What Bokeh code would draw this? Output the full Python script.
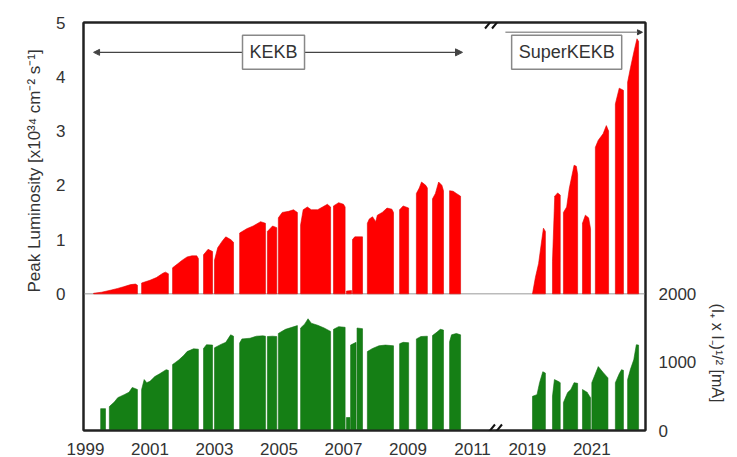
from bokeh.plotting import figure
from bokeh.models import Range1d, LinearAxis, FixedTicker, Span, Label, Arrow, NormalHead, Title
from bokeh.embed import file_html
from bokeh.resources import INLINE

NaN = float("nan")

# Peak luminosity [x10^34 cm^-2 s^-1]; NaN separates operation runs
lum_year = [1999.25, 1999.5, 1999.8, 2000.0, 2000.18, 2000.4, 2000.55, 2000.61, NaN,
            2000.74, 2001.0, 2001.2, 2001.4, 2001.48, 2001.57, NaN,
            2001.70, 2001.85, 2002.0, 2002.15, 2002.3, 2002.45, 2002.50, NaN,
            2002.66, 2002.8, 2002.94, NaN,
            2003.00, 2003.1, 2003.25, 2003.35, 2003.5, 2003.59, NaN,
            2003.78, 2004.0, 2004.2, 2004.43, 2004.58, NaN,
            2004.64, 2004.8, 2004.93, NaN,
            2004.98, 2005.1, 2005.3, 2005.45, 2005.57, NaN,
            2005.67, 2005.75, 2005.88, 2006.0, 2006.2, 2006.35, 2006.5, 2006.60, NaN,
            2006.69, 2006.85, 2007.0, 2007.05, NaN,
            2007.09, 2007.25, NaN,
            2007.28, 2007.35, 2007.59, NaN,
            2007.74, 2007.8, 2007.9, 2008.0, 2008.05, 2008.2, 2008.35, 2008.5, 2008.55, NaN,
            2008.74, 2008.85, 2009.02, NaN,
            2009.26, 2009.35, 2009.42, 2009.55, 2009.60, NaN,
            2009.76, 2009.85, 2009.95, 2010.05, 2010.10, NaN,
            2010.29, 2010.4, 2010.5, 2010.63, NaN,
            2019.16, 2019.25, 2019.35, 2019.45, 2019.5, 2019.56, NaN,
            2019.78, 2019.85, 2019.94, 2020.02, NaN,
            2020.12, 2020.22, 2020.3, 2020.45, 2020.52, 2020.56, NaN,
            2020.71, 2020.8, 2020.9, 2020.96, NaN,
            2021.11, 2021.2, 2021.35, 2021.45, 2021.52, NaN,
            2021.73, 2021.85, 2021.98, NaN,
            2022.11, 2022.2, 2022.32, 2022.4, 2022.45]
lum_value = [0.01, 0.03, 0.07, 0.10, 0.13, 0.17, 0.18, 0.16, NaN,
             0.20, 0.25, 0.30, 0.38, 0.40, 0.37, NaN,
             0.48, 0.55, 0.62, 0.68, 0.70, 0.70, 0.65, NaN,
             0.72, 0.82, 0.78, NaN,
             0.62, 0.85, 0.98, 1.05, 1.00, 0.95, NaN,
             1.12, 1.20, 1.25, 1.33, 1.30, NaN,
             1.15, 1.25, 1.22, NaN,
             1.40, 1.50, 1.52, 1.55, 1.50, NaN,
             1.27, 1.55, 1.60, 1.55, 1.55, 1.60, 1.65, 1.60, NaN,
             1.62, 1.68, 1.65, 1.60, NaN,
             0.05, 0.06, NaN,
             1.00, 1.05, 1.05, NaN,
             1.30, 1.38, 1.42, 1.33, 1.45, 1.50, 1.58, 1.56, 1.50, NaN,
             1.55, 1.62, 1.58, NaN,
             1.85, 1.95, 2.06, 2.00, 1.95, NaN,
             1.75, 1.85, 2.06, 2.00, 1.90, NaN,
             1.90, 1.89, 1.85, 1.80, NaN,
             0.00, 0.30, 0.56, 1.00, 1.21, 1.15, NaN,
             0.60, 1.80, 1.86, 1.82, NaN,
             1.50, 1.60, 1.94, 2.37, 2.35, 2.20, NaN,
             1.30, 1.45, 1.40, 1.20, NaN,
             2.70, 2.83, 2.95, 3.10, 3.00, NaN,
             3.50, 3.79, 3.75, NaN,
             3.90, 4.17, 4.50, 4.70, 4.65]

# Beam current (I+ x I-)^1/2 [mA]; NaN separates operation runs
cur_year = [1999.47, 1999.62, NaN,
            1999.74, 1999.9, 2000.0, 2000.2, 2000.35, 2000.45, 2000.61, NaN,
            2000.74, 2000.82, 2000.9, 2001.0, 2001.15, 2001.3, 2001.5, 2001.57, NaN,
            2001.70, 2001.8, 2001.9, 2002.05, 2002.15, 2002.35, 2002.50, NaN,
            2002.66, 2002.75, 2002.94, NaN,
            2003.00, 2003.2, 2003.35, 2003.5, 2003.59, NaN,
            2003.78, 2003.85, 2004.1, 2004.3, 2004.5, 2004.58, NaN,
            2004.64, 2004.8, 2004.93, NaN,
            2004.98, 2005.2, 2005.4, 2005.57, NaN,
            2005.67, 2005.8, 2005.9, 2006.0, 2006.2, 2006.4, 2006.60, NaN,
            2006.69, 2006.85, 2007.05, NaN,
            2007.09, 2007.2, NaN,
            2007.22, 2007.39, NaN,
            2007.42, 2007.59, NaN,
            2007.74, 2007.9, 2008.1, 2008.3, 2008.55, NaN,
            2008.74, 2008.85, 2009.02, NaN,
            2009.26, 2009.4, 2009.60, NaN,
            2009.76, 2009.9, 2010.0, 2010.10, NaN,
            2010.29, 2010.35, 2010.5, 2010.63, NaN,
            2019.16, 2019.3, 2019.38, 2019.48, 2019.56, NaN,
            2019.78, 2019.84, 2019.95, 2020.02, NaN,
            2020.12, 2020.25, 2020.35, 2020.45, 2020.56, NaN,
            2020.71, 2020.85, 2020.96, NaN,
            2021.00, 2021.2, 2021.35, 2021.5, NaN,
            2021.73, 2021.85, 2021.92, 2021.98, NaN,
            2022.11, 2022.2, 2022.3, 2022.38, 2022.45]
cur_value = [320, 320, NaN,
             350, 420, 480, 525, 560, 630, 600, NaN,
             600, 745, 700, 720, 790, 830, 890, 880, NaN,
             965, 1000, 1035, 1100, 1155, 1195, 1190, NaN,
             1200, 1255, 1250, NaN,
             1210, 1260, 1290, 1400, 1380, NaN,
             1280, 1340, 1350, 1380, 1385, 1380, NaN,
             1375, 1380, 1375, NaN,
             1420, 1480, 1510, 1535, NaN,
             1500, 1560, 1635, 1570, 1540, 1500, 1450, NaN,
             1480, 1520, 1510, NaN,
             190, 190, NaN,
             1250, 1290, NaN,
             1500, 1490, NaN,
             1155, 1200, 1240, 1250, 1240, NaN,
             1270, 1290, 1285, NaN,
             1340, 1375, 1380, NaN,
             1390, 1440, 1480, 1470, NaN,
             1300, 1400, 1420, 1400, NaN,
             500, 525, 700, 860, 840, NaN,
             500, 745, 720, 700, NaN,
             410, 555, 600, 700, 690, NaN,
             600, 560, 480, NaN,
             700, 935, 850, 770, NaN,
             700, 830, 890, 880, NaN,
             745, 900, 1035, 1255, 1250]

tick_years = [1999, 2001, 2003, 2005, 2007, 2009, 2011, 2019, 2021]
lum_ticks = [0, 1, 2, 3, 4, 5]
cur_ticks = [0, 1000, 2000]

BREAK_SHIFT = 6.3  # years cut out of the axis between KEKB and SuperKEKB


def to_axis(t):
    return t - BREAK_SHIFT if t > 2015 else t


def split_runs(years, values):
    xs, ys, cx, cy = [], [], [], []
    for t, v in zip(list(years) + [NaN], list(values) + [NaN]):
        if t != t:
            if cx:
                xs.append([cx[0]] + cx + [cx[-1]])
                ys.append([0] + cy + [0])
            cx, cy = [], []
        else:
            cx.append(to_axis(t))
            cy.append(v)
    return xs, ys


# layout (pixels)
W, H = 737, 457
LEFT, RIGHT, TOP, BOTTOM = 83, 92, 22, 26
FRAME_W = W - LEFT - RIGHT
TOP_PANEL, BOT_PANEL = 272, 137
PX_PER_YEAR = 32.25

x0 = 1999 - 2 / PX_PER_YEAR
x1 = x0 + FRAME_W / PX_PER_YEAR
lum_lo = -5 * BOT_PANEL / TOP_PANEL
cur_hi = 2000 * (TOP_PANEL + BOT_PANEL) / BOT_PANEL

p = figure(width=W, height=H, x_range=Range1d(x0, x1), y_range=Range1d(lum_lo, 5),
           output_backend="svg", toolbar_location=None,
           min_border_left=LEFT, min_border_right=RIGHT,
           min_border_top=TOP, min_border_bottom=BOTTOM)
p.extra_y_ranges = {"cur": Range1d(0, cur_hi)}
p.xgrid.visible = False
p.ygrid.visible = False
p.outline_line_color = "#222222"
p.outline_line_width = 2
p.background_fill_color = "white"
p.border_fill_color = "white"

FONT = "Liberation Sans"
TXT = "#333333"

# baseline of the luminosity panel
p.add_layout(Span(location=0, dimension="width", line_color="#bbbbbb",
                  line_width=1.5, level="underlay"))

lx, ly = split_runs(lum_year, lum_value)
p.patches(lx, ly, fill_color="#ff0000", line_color="#e00000", line_width=0.6)
cx, cy = split_runs(cur_year, cur_value)
p.patches(cx, cy, fill_color="#157f15", line_color="#127012", line_width=0.6,
          y_range_name="cur")

# axes
tick_pos = [to_axis(y) for y in tick_years]
xa = p.xaxis[0]
xa.ticker = FixedTicker(ticks=tick_pos)
xa.major_label_overrides = {tp: str(y) for tp, y in zip(tick_pos, tick_years)}
ya = p.yaxis[0]
ya.ticker = FixedTicker(ticks=lum_ticks)
ra = LinearAxis(y_range_name="cur", ticker=FixedTicker(ticks=cur_ticks))
p.add_layout(ra, "right")
ta = LinearAxis(ticker=FixedTicker(ticks=[]), major_label_text_font_size="0px")
p.add_layout(ta, "above")

for ax, standoff in ((xa, 6), (ya, 12), (ra, 7), (ta, 0)):
    ax.major_tick_line_color = None
    ax.minor_tick_line_color = None
    ax.axis_line_color = "#222222"
    ax.axis_line_width = 2
    ax.major_label_text_font = FONT
    ax.major_label_text_color = TXT
    ax.major_label_standoff = standoff
for ax in (xa, ya, ra):
    ax.major_label_text_font_size = "17px"

# axis titles, anchored at their start and shifted onto their own sub-panel
frame_bottom = TOP + TOP_PANEL + BOT_PANEL
p.add_layout(Title(text="Peak Luminosity [x10³⁴ cm⁻² s⁻¹]", align="left",
                   offset=(frame_bottom - 5) - 288, standoff=20,
                   text_font=FONT, text_font_size="17px", text_font_style="normal",
                   text_color=TXT), "left")
p.add_layout(Title(text="(I₊ x I₋)¹/² [mA]", align="left",
                   offset=308 - (TOP + 5), standoff=18,
                   text_font=FONT, text_font_size="16px", text_font_style="normal",
                   text_color=TXT), "right")

# era markers
p.add_layout(Arrow(x_start=1999.25, y_start=4.45, x_end=2010.69, y_end=4.45,
                   line_color="#444444", line_width=1.2,
                   start=NormalHead(size=6, fill_color="#444444", line_color="#444444"),
                   end=NormalHead(size=7, fill_color="#444444", line_color="#444444")))
p.add_layout(Arrow(x_start=to_axis(2018.32), y_start=4.82, x_end=to_axis(2022.57), y_end=4.82,
                   line_color="#999999", line_width=1.5, start=None,
                   end=NormalHead(size=5, fill_color="#333333", line_color="#333333")))
p.add_layout(Label(x=2004.83, y=4.45, text="KEKB", text_align="center", text_baseline="middle",
                   text_font=FONT, text_font_size="18px", text_color=TXT,
                   border_line_color="#888888", border_line_width=1.5,
                   background_fill_color="white", padding=7))
p.add_layout(Label(x=to_axis(2020.22), y=4.45, text="SuperKEKB", text_align="center",
                   text_baseline="middle", text_font=FONT, text_font_size="18px",
                   text_color=TXT, border_line_color="#888888", border_line_width=1.5,
                   background_fill_color="white", padding=7))

# axis-break marks
lum_per_px = 5 / TOP_PANEL
bx = 1999 + (493 - 85) / PX_PER_YEAR
dx = 5 / PX_PER_YEAR
dy = 6 * lum_per_px
for yb in (5, lum_lo):
    for off in (-3.5, 3.5):
        c = bx + off / PX_PER_YEAR
        p.add_layout(Arrow(x_start=c - dx, y_start=yb - dy, x_end=c + dx, y_end=yb + dy,
                           start=None, end=None, line_color="#111111", line_width=2))

open("out.html", "w").write(file_html(p, INLINE))
